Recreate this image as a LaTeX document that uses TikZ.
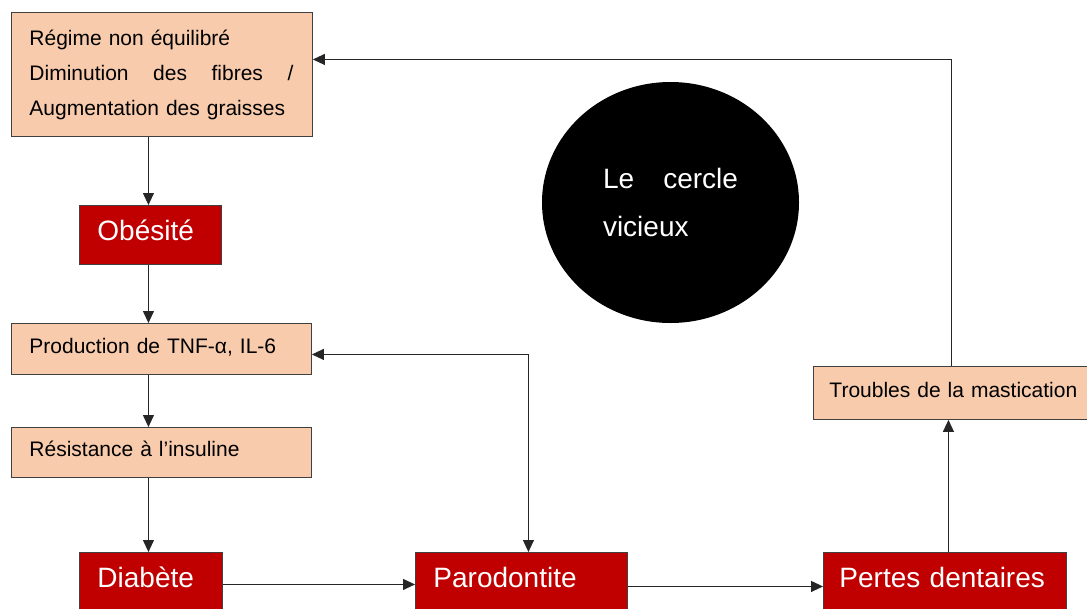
\documentclass[tikz,border=0pt]{standalone}
\usepackage{fontspec}
\setmainfont{Liberation Sans}
\usetikzlibrary{arrows.meta,calc,shapes.geometric}
\definecolor{peach}{HTML}{F8CBAD}
\definecolor{boxred}{HTML}{C00000}
\tikzset{
  base/.style={draw=black!75, line width=0.9pt, anchor=north west, inner xsep=18pt, inner ysep=0pt, align=left},
  lbase/.style={base, fill=peach, font=\fontsize{21}{35}\selectfont},
  lbox/.style={lbase, text height=15pt, text depth=6pt},
  rbox/.style={base, fill=boxred, text=white, font=\fontsize{28}{32}\selectfont, text height=20pt, text depth=9pt, minimum height=59pt},
  tip/.tip={Triangle[length=12pt,width=11pt]},
  arr/.style={-tip, line width=1.1pt, draw=black!85},
  arrboth/.style={tip-tip, line width=1.1pt, draw=black!85},
}
\begin{document}
\begin{tikzpicture}[x=1pt,y=-1pt]
\clip (0,0) rectangle (1087,608);
\fill[white] (0,0) rectangle (1087,608);
% boxes
\node[lbase, text width=265pt, minimum height=124pt] (top) at (11,12)
  {Régime non équilibré\\\makebox[264pt][l]{Diminution\hfill des\hfill fibres\hfill /}\\Augmentation des graisses};
\node[rbox, text width=106pt] (obes) at (79,205) {Obésité};
\node[lbox, text width=264pt, minimum height=51pt] (prod) at (11,323) {Production de TNF-α, IL-6};
\node[lbox, text width=264pt, minimum height=50pt] (resist) at (11,427) {Résistance à l’insuline};
\node[rbox, text width=107pt] (diab) at (79,552) {Diabète};
\node[rbox, text width=176pt] (paro) at (415,552) {Parodontite};
\node[rbox, inner xsep=16pt, text width=211pt] (pertes) at (823,552) {Pertes dentaires};
\node[lbox, inner xsep=16pt, text width=254pt, minimum height=53pt] (troub) at (813,366) {Troubles de la mastication};
\node[ellipse, fill=black, minimum width=257pt, minimum height=241pt, inner sep=0pt,
      text=white, font=\fontsize{28}{48}\selectfont, text width=135pt, align=left] (circ) at (670.5,202.5)
  {\makebox[135pt][l]{Le\hfill cercle}\\vicieux};
% connectors
\draw[arr] ($(top.south -| obes.north)+(-2,0)$) -- ($(obes.north)+(-2,0)$);
\draw[arr] ($(obes.south)+(-2,0)$) -- ($(obes.south |- prod.north)+(-2,0)$);
\draw[arr] ($(prod.south -| obes.south)+(-2,0)$) -- ($(resist.north -| obes.south)+(-2,0)$);
\draw[arr] ($(resist.south -| obes.south)+(-2,0)$) -- ($(diab.north -| obes.south)+(-2,0)$);
\draw[arr] ($(diab.east)+(0,2.5)$) -- ($(diab.east -| paro.west)+(0,2.5)$);
\draw[arr] ($(paro.east)+(0,4.5)$) -- ($(paro.east -| pertes.west)+(0,4.5)$);
\draw[arr] ($(pertes.north)+(3.5,0)$) -- ($(pertes.north |- troub.south)+(3.5,0)$);
\draw[arr] ($(troub.north)+(-5,0)$) |- ($(top.east)+(0,-15)$);
\draw[arrboth] ($(prod.east)+(0,5.5)$) -| ($(paro.north)+(7,0)$);
\end{tikzpicture}
\end{document}
